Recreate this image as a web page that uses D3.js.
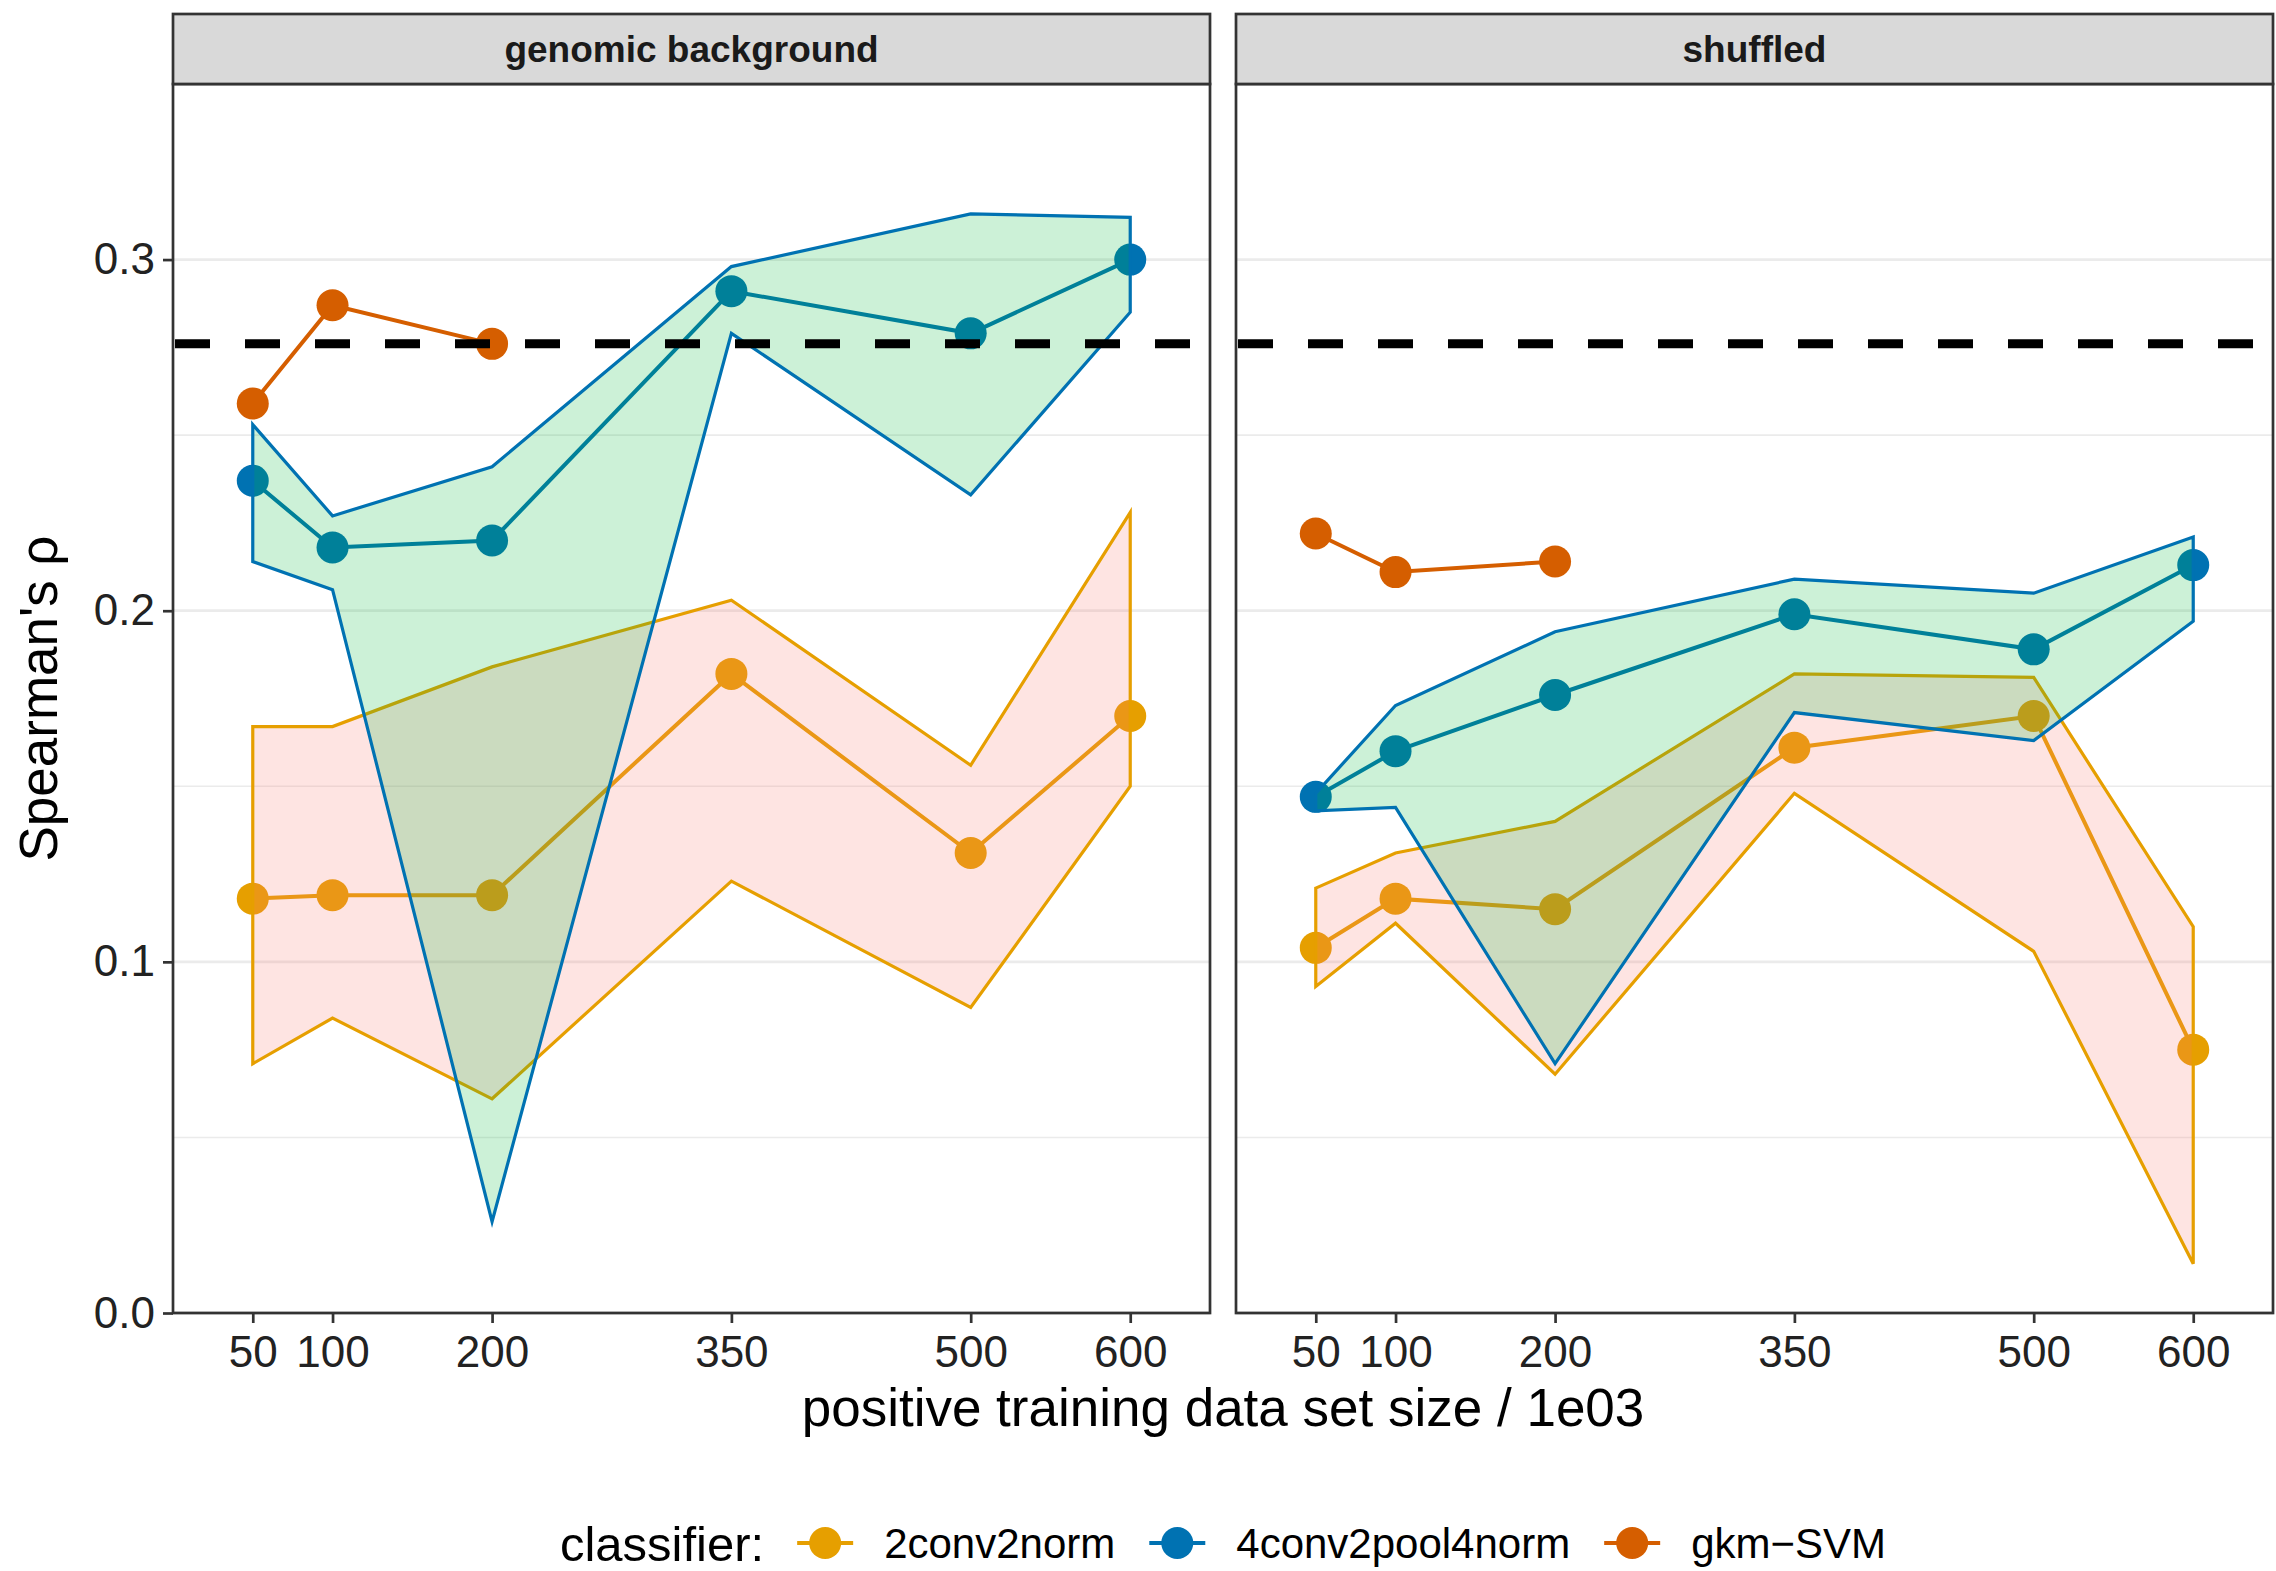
<!DOCTYPE html>
<html>
<head>
<meta charset="utf-8">
<script src="https://cdn.jsdelivr.net/npm/d3@7"></script>
<style>
  body { margin: 0; background: #fff; }
  svg { font-family: "Liberation Sans", Arial, Helvetica, sans-serif; }
</style>
</head>
<body>
<div id="chart"></div>
<script>
// training set sizes (x 1e03)
var sizes = [50, 100, 200, 350, 500, 600];
var gkmSizes = [50, 100, 200];
var panels = ["genomic background", "shuffled"];
var classifiers = ["2conv2norm", "4conv2pool4norm", "gkm\u2212SVM"];

// genomic background
var gen2convMean = [0.118, 0.119, 0.119, 0.182, 0.131, 0.170];
var gen2convLow  = [0.071, 0.084, 0.061, 0.123, 0.087, 0.150];
var gen2convHigh = [0.167, 0.167, 0.184, 0.203, 0.156, 0.228];
var gen4convMean = [0.237, 0.218, 0.220, 0.291, 0.279, 0.300];
var gen4convLow  = [0.214, 0.206, 0.026, 0.279, 0.233, 0.285];
var gen4convHigh = [0.253, 0.227, 0.241, 0.298, 0.313, 0.312];
var genGkm = [0.259, 0.287, 0.276];

// shuffled
var shu2convMean = [0.104, 0.118, 0.115, 0.161, 0.170, 0.075];
var shu2convLow  = [0.093, 0.111, 0.068, 0.148, 0.103, 0.014];
var shu2convHigh = [0.121, 0.131, 0.140, 0.182, 0.181, 0.110];
var shu4convMean = [0.147, 0.160, 0.176, 0.199, 0.189, 0.213];
var shu4convLow  = [0.143, 0.144, 0.071, 0.171, 0.163, 0.197];
var shu4convHigh = [0.148, 0.173, 0.194, 0.209, 0.205, 0.221];
var shuGkm = [0.222, 0.211, 0.214];

var baseline = 0.276;
var yTicks = [0.0, 0.1, 0.2, 0.3];
var yMinor = [0.05, 0.15, 0.25];

var lineColors = ["#E69F00", "#0072B2", "#D55E00"];
var ribbonFills = ["#F8766D", "#00BA38"];

var width = 2276;
var height = 1571;
var panelTop = 84;
var panelBottom = 1313;
var panelW = 1037;
var panelX = [173, 1236];
var stripTop = 14;

var svg = d3.select("#chart")
    .append("svg")
    .attr("width", width)
    .attr("height", height);

var x = d3.scaleLinear().domain([0, 650]).range([0, panelW]);
var y = d3.scaleLinear().domain([0, 0.35]).range([panelBottom - panelTop, 0]);
var ph = panelBottom - panelTop;

function zip(xs, ys) {
    return xs.map(function(d, i) { return {x: d, y: ys[i]}; });
}

var panelData = [
    {
        means: [zip(sizes, gen2convMean), zip(sizes, gen4convMean), zip(gkmSizes, genGkm)],
        bands: [
            sizes.map(function(d, i) { return {x: d, lo: gen2convLow[i], hi: gen2convHigh[i]}; }),
            sizes.map(function(d, i) { return {x: d, lo: gen4convLow[i], hi: gen4convHigh[i]}; })
        ]
    },
    {
        means: [zip(sizes, shu2convMean), zip(sizes, shu4convMean), zip(gkmSizes, shuGkm)],
        bands: [
            sizes.map(function(d, i) { return {x: d, lo: shu2convLow[i], hi: shu2convHigh[i]}; }),
            sizes.map(function(d, i) { return {x: d, lo: shu4convLow[i], hi: shu4convHigh[i]}; })
        ]
    }
];

var line = d3.line()
    .x(function(d) { return x(d.x); })
    .y(function(d) { return y(d.y); });

var area = d3.area()
    .x(function(d) { return x(d.x); })
    .y0(function(d) { return y(d.lo); })
    .y1(function(d) { return y(d.hi); });

panelData.forEach(function(pd, p) {
    var g = svg.append("g")
        .attr("transform", "translate(" + panelX[p] + "," + panelTop + ")");

    // strip
    svg.append("rect")
        .attr("x", panelX[p])
        .attr("y", stripTop)
        .attr("width", panelW)
        .attr("height", panelTop - stripTop)
        .attr("fill", "#d9d9d9")
        .attr("stroke", "#333")
        .attr("stroke-width", 2.7);
    svg.append("text")
        .attr("x", panelX[p] + panelW / 2)
        .attr("y", (stripTop + panelTop) / 2)
        .attr("dy", "0.36em")
        .attr("text-anchor", "middle")
        .attr("font-size", "37px")
        .attr("font-weight", "bold")
        .attr("fill", "#1a1a1a")
        .text(panels[p]);

    g.append("rect")
        .attr("width", panelW)
        .attr("height", ph)
        .attr("fill", "#fff");

    // grid
    g.selectAll(".minor")
        .data(yMinor)
        .enter()
        .append("line")
        .attr("x1", 0).attr("x2", panelW)
        .attr("y1", function(d) { return y(d); })
        .attr("y2", function(d) { return y(d); })
        .attr("stroke", "#ebebeb")
        .attr("stroke-width", 1.6);
    g.selectAll(".major")
        .data(yTicks)
        .enter()
        .append("line")
        .attr("x1", 0).attr("x2", panelW)
        .attr("y1", function(d) { return y(d); })
        .attr("y2", function(d) { return y(d); })
        .attr("stroke", "#ebebeb")
        .attr("stroke-width", 2.8);

    // mean lines and points
    pd.means.forEach(function(m, k) {
        g.append("path")
            .datum(m)
            .attr("d", line)
            .attr("fill", "none")
            .attr("stroke", lineColors[k])
            .attr("stroke-width", 4);
    });
    pd.means.forEach(function(m, k) {
        g.selectAll(".pt" + k)
            .data(m)
            .enter()
            .append("circle")
            .attr("cx", function(d) { return x(d.x); })
            .attr("cy", function(d) { return y(d.y); })
            .attr("r", 16)
            .attr("fill", lineColors[k]);
    });

    // ribbons on top
    pd.bands.forEach(function(b, k) {
        g.append("path")
            .datum(b)
            .attr("d", area)
            .attr("fill", ribbonFills[k])
            .attr("fill-opacity", 0.2)
            .attr("stroke", lineColors[k])
            .attr("stroke-width", 3.2)
            .attr("stroke-linejoin", "miter");
    });

    // baseline
    g.append("line")
        .attr("x1", 2).attr("x2", panelW)
        .attr("y1", y(baseline)).attr("y2", y(baseline))
        .attr("stroke", "#000")
        .attr("stroke-width", 9)
        .attr("stroke-dasharray", "35,35");

    // border
    g.append("rect")
        .attr("width", panelW)
        .attr("height", ph)
        .attr("fill", "none")
        .attr("stroke", "#333")
        .attr("stroke-width", 2.7);

    // x axis
    var xAxis = g.append("g")
        .attr("transform", "translate(0," + ph + ")")
        .call(d3.axisBottom(x).tickValues(sizes).tickSize(10).tickPadding(13));
    xAxis.select(".domain").remove();
    xAxis.selectAll("line").attr("stroke", "#333").attr("stroke-width", 2.7);
    xAxis.selectAll("text")
        .attr("font-size", "44px")
        .attr("font-family", "Liberation Sans, Arial, sans-serif")
        .attr("fill", "#222");

    if (p === 0) {
        var yAxis = g.append("g")
            .call(d3.axisLeft(y).tickValues(yTicks).tickFormat(d3.format(".1f")).tickSize(10).tickPadding(8));
        yAxis.select(".domain").remove();
        yAxis.selectAll("line").attr("stroke", "#333").attr("stroke-width", 2.7);
        yAxis.selectAll("text")
            .attr("font-size", "44px")
            .attr("font-family", "Liberation Sans, Arial, sans-serif")
            .attr("fill", "#222");
    }
});

// axis titles
svg.append("text")
    .attr("x", (panelX[0] + panelX[1] + panelW) / 2)
    .attr("y", 1426)
    .attr("text-anchor", "middle")
    .attr("font-size", "53px")
    .attr("fill", "#000")
    .text("positive training data set size / 1e03");

svg.append("text")
    .attr("transform", "translate(57," + (panelTop + panelBottom) / 2 + ") rotate(-90)")
    .attr("text-anchor", "middle")
    .attr("font-size", "53px")
    .attr("fill", "#000")
    .text("Spearman's \u03c1");

// legend
var legend = svg.append("g");
var lx = 0;
var ly = 1543;
var title = legend.append("text")
    .attr("x", lx)
    .attr("y", ly)
    .attr("dy", "0.36em")
    .attr("font-size", "49px")
    .text("classifier:");
lx += title.node().getComputedTextLength() + 33;
classifiers.forEach(function(c, k) {
    legend.append("line")
        .attr("x1", lx).attr("x2", lx + 56)
        .attr("y1", ly).attr("y2", ly)
        .attr("stroke", lineColors[k])
        .attr("stroke-width", 4);
    legend.append("circle")
        .attr("cx", lx + 28)
        .attr("cy", ly)
        .attr("r", 16)
        .attr("fill", lineColors[k]);
    lx += 56 + 31;
    var t = legend.append("text")
        .attr("x", lx)
        .attr("y", ly)
        .attr("dy", "0.36em")
        .attr("font-size", "42px")
        .text(c);
    lx += t.node().getComputedTextLength() + 34;
});
lx -= 34;
legend.attr("transform", "translate(" + ((panelX[0] + panelX[1] + panelW) / 2 - lx / 2) + ",0)");
</script>
</body>
</html>
